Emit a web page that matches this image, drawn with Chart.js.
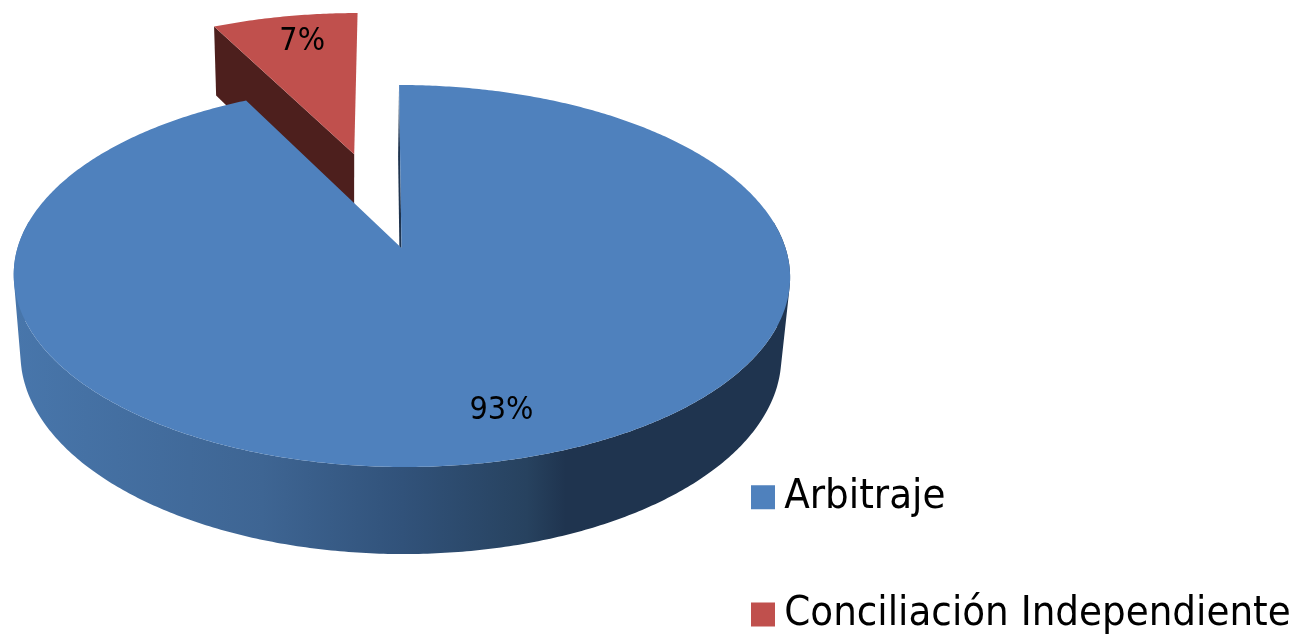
<!DOCTYPE html>
<html lang="es">
<head>
  <meta charset="UTF-8" />
  <title>Arbitraje y Conciliación</title>
  <script src="https://cdn.jsdelivr.net/npm/chart.js"></script>
  <style>
    html, body { margin: 0; background: #fff; }
    #box { width: 1298px; height: 636px; position: relative; overflow: hidden; }
  </style>
</head>
<body>
  <div id="box"><canvas id="pie"></canvas></div>

  <script>
    const categories = ['Arbitraje', 'Conciliación Independiente'];
    const values = [92.55, 7.45];
    const colors = ['#4f81bd', '#c0504d'];
    const edgeColors = ['#1f344f', '#4d1f1d'];
    const explode = [0, 445]; // chart.js divides offset by 4

    const fontName = "'DejaVu Sans Condensed', 'DejaVu Sans', sans-serif";

    // perspective of the tilted disc, in pixels
    const view = { cx: 401.5, cy: 248, a: 384, b: 186.9, p: 0.1466, q: 0.02, d: 80.4, skew: 2.8, drift: 1 };

    function project(u, v, z) {
      const w = 1 - view.p * v + view.q * z;
      return {
        x: view.cx + (view.a * u + view.skew * v) / w - view.drift * z,
        y: view.cy + (view.b * v + view.d * z) / w
      };
    }

    // unit-disc geometry of an arc element, exploded along its bisector
    function discOf(arc) {
      const mid = (arc.startAngle + arc.endAngle) / 2;
      const shift = (arc.options.offset || 0) / 4 / arc.outerRadius;
      return { ox: Math.cos(mid) * shift, oy: Math.sin(mid) * shift, start: arc.startAngle, end: arc.endAngle };
    }

    function rimPoint(disc, angle, z) {
      return project(disc.ox + Math.cos(angle), disc.oy + Math.sin(angle), z);
    }

    function addPolygon(ctx, points) {
      points.forEach((pt, i) => i ? ctx.lineTo(pt.x, pt.y) : ctx.moveTo(pt.x, pt.y));
      ctx.closePath();
    }

    function fillPolygon(ctx, points, fill) {
      ctx.beginPath();
      addPolygon(ctx, points);
      ctx.fillStyle = fill;
      ctx.fill();
    }

    function rimAngles(start, end) {
      const out = [];
      const steps = Math.ceil((end - start) / 0.01);
      for (let i = 0; i <= steps; i++) out.push(start + (end - start) * i / steps);
      return out;
    }

    function sideGradient(ctx) {
      const g = ctx.createLinearGradient(14, 0, 791, 0);
      g.addColorStop(0, '#4876ab');
      g.addColorStop(0.32, '#3e6593');
      g.addColorStop(0.5, '#31527a');
      g.addColorStop(0.66, '#27425f');
      g.addColorStop(0.71, '#1f344f');
      g.addColorStop(1, '#1f344f');
      return g;
    }

    // the wall folds over at the silhouette, so keep every quad wound the same way
    function addWallQuad(ctx, disc, t0, t1) {
      const quad = [rimPoint(disc, t0, 0), rimPoint(disc, t1, 0), rimPoint(disc, t1, 1), rimPoint(disc, t0, 1)];
      let area = 0;
      quad.forEach((pt, i) => {
        const next = quad[(i + 1) % 4];
        area += pt.x * next.y - next.x * pt.y;
      });
      addPolygon(ctx, area < 0 ? quad.reverse() : quad);
    }

    function drawSlice(ctx, arc, i) {
      const disc = discOf(arc);
      const angles = rimAngles(disc.start, disc.end);

      // cut face on the leading edge
      fillPolygon(ctx, [
        project(disc.ox, disc.oy, 0),
        rimPoint(disc, disc.start, 0),
        rimPoint(disc, disc.start, 1),
        project(disc.ox, disc.oy, 1)
      ], edgeColors[i]);

      // outer wall, only the part that faces the viewer (a bit more, the top face hides it)
      const front = angles.filter(t => Math.sin(t) >= -0.15);
      if (front.length > 1) {
        ctx.beginPath();
        for (let k = 1; k < front.length; k++) addWallQuad(ctx, disc, front[k - 1], front[k]);
        ctx.fillStyle = sideGradient(ctx);
        ctx.fill();
      }

      // top face
      fillPolygon(ctx, [project(disc.ox, disc.oy, 0)].concat(angles.map(t => rimPoint(disc, t, 0))), arc.options.backgroundColor);
    }

    const labelReach = [0.8, 0.8];
    const labelNudge = [[17, -1], [5, 0]];

    function drawLabels(ctx, arcs) {
      const total = values.reduce((s, v) => s + v, 0);
      ctx.font = '32px ' + fontName;
      ctx.fillStyle = '#000';
      ctx.textAlign = 'center';
      ctx.textBaseline = 'middle';
      arcs.forEach((arc, i) => {
        const disc = discOf(arc);
        const mid = (disc.start + disc.end) / 2;
        const pt = project(disc.ox + Math.cos(mid) * labelReach[i], disc.oy + Math.sin(mid) * labelReach[i], 0);
        ctx.fillText(Math.round(values[i] / total * 100) + '%', pt.x + labelNudge[i][0], pt.y + labelNudge[i][1]);
      });
    }

    const legendPad = 75.8;

    const tiltedPie = {
      id: 'tiltedPie',
      afterLayout(chart) {
        // legend sits low on the right, lower than align:'end' can put it
        const lg = chart.legend;
        lg.left = 762.5 - legendPad;
        lg.top += 75;
        lg.bottom += 75;
      },
      beforeDatasetDraw(chart, args) {
        const arcs = chart.getDatasetMeta(args.index).data;
        const ctx = chart.ctx;
        ctx.save();
        // red goes first, the blue top covers its wall
        for (let i = arcs.length - 1; i >= 0; i--) drawSlice(ctx, arcs[i], i);
        drawLabels(ctx, arcs);
        ctx.restore();
        return false;
      }
    };

    new Chart(document.getElementById('pie'), {
      type: 'pie',
      data: {
        labels: categories,
        datasets: [{ data: values, backgroundColor: colors, offset: explode, borderWidth: 0 }]
      },
      plugins: [tiltedPie],
      options: {
        responsive: true,
        maintainAspectRatio: false,
        animation: false,
        radius: 200,
        plugins: {
          tooltip: { enabled: false },
          legend: {
            position: 'right',
            align: 'end',
            labels: {
              color: '#000',
              font: { family: fontName, size: 41.5 },
              usePointStyle: true,
              pointStyle: 'rect',
              boxWidth: 1,
              boxHeight: 24,
              padding: legendPad
            }
          }
        }
      }
    });
  </script>
</body>
</html>
